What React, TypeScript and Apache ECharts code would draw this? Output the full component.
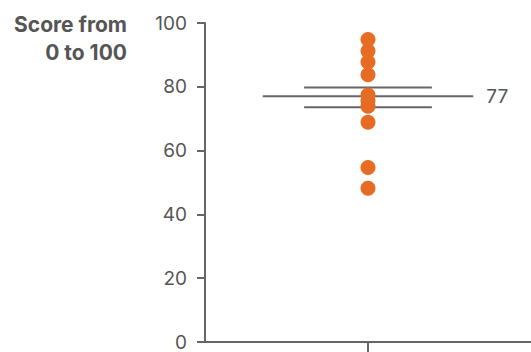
import React, { useEffect, useRef } from "react";
import * as echarts from "echarts";

const categories = [""];
const scores = [94.8, 91.2, 87.8, 83.8, 77.4, 75.6, 73.9, 68.9, 54.7, 48.2];
const meanValue = 77;
const ciLow = 73.6;
const ciHigh = 79.8;
const yTicks = { min: 0, max: 100, interval: 20 };
const titleLines = ["Score from", "0 to 100"];

const GRAY = "#666666";
const TEXT = "#555555";
const ORANGE = "#e66c24";
const FONT = "Inter, 'Liberation Sans', sans-serif";

export default function App() {
  const ref = useRef<HTMLDivElement>(null);
  useEffect(() => {
    document.body.style.margin = "0";
    if (!ref.current) return;
    const chart = echarts.init(ref.current, null, { renderer: "svg" });
    chart.setOption({
      animation: false,
      grid: { left: 205, right: 0, top: 23, bottom: 10, containLabel: false },
      graphic: [
        {
          type: "text",
          x: 127,
          y: 10,
          style: {
            text: titleLines.join("\n"),
            align: "right",
            verticalAlign: "top",
            fill: TEXT,
            font: `bold 21px ${FONT}`,
            lineHeight: 28,
          },
        },
      ],
      xAxis: {
        type: "category",
        data: categories,
        axisLine: { lineStyle: { color: GRAY, width: 2 } },
        axisTick: { show: true, interval: 0, alignWithLabel: true, length: 12, lineStyle: { color: GRAY, width: 2 } },
        axisLabel: { show: true, interval: 0, formatter: () => "" },
      },
      yAxis: {
        type: "value",
        min: yTicks.min,
        max: yTicks.max,
        interval: yTicks.interval,
        splitLine: { show: false },
        axisLine: { show: true, lineStyle: { color: GRAY, width: 2 } },
        axisTick: { show: true, length: 8, lineStyle: { color: GRAY, width: 2 } },
        axisLabel: {
          color: TEXT,
          fontSize: 19,
          fontFamily: FONT,
          fontWeight: "normal",
          margin: 18,
        },
      },
      series: [
        {
          type: "custom",
          z: 1,
          data: [[0, meanValue, ciLow, ciHigh]],
          renderItem: (params: any, api: any) => {
            const c = api.coord([api.value(0), api.value(1)]);
            const lo = api.coord([api.value(0), api.value(2)]);
            const hi = api.coord([api.value(0), api.value(3)]);
            const band = api.size([1, 0])[0];
            const mw = band * 0.323;
            const cw = band * 0.196;
            const ls = { stroke: GRAY, lineWidth: 2 };
            return {
              type: "group",
              children: [
                { type: "line", shape: { x1: c[0] - mw, y1: c[1], x2: c[0] + mw, y2: c[1] }, style: ls },
                { type: "line", shape: { x1: c[0] - cw, y1: lo[1], x2: c[0] + cw, y2: lo[1] }, style: ls },
                { type: "line", shape: { x1: c[0] - cw, y1: hi[1], x2: c[0] + cw, y2: hi[1] }, style: ls },
                {
                  type: "text",
                  x: c[0] + mw + 13,
                  y: c[1],
                  style: {
                    text: String(api.value(1)),
                    align: "left",
                    verticalAlign: "middle",
                    fill: TEXT,
                    font: `normal 19px ${FONT}`,
                  },
                },
              ],
            };
          },
        },
        {
          type: "scatter",
          z: 5,
          symbolSize: 15,
          itemStyle: { color: ORANGE, opacity: 1 },
          data: scores.map((v) => [0, v]),
        },
      ],
    });
    return () => chart.dispose();
  }, []);
  return <div ref={ref} style={{ width: 531, height: 352 }} />;
}
